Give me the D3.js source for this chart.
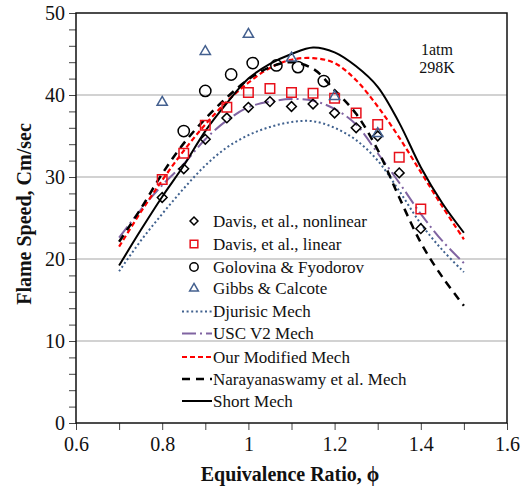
<!DOCTYPE html>
<html>
<head>
<meta charset="utf-8">
<script src="https://cdn.jsdelivr.net/npm/d3@7"></script>
<style>
  html, body { margin: 0; padding: 0; background: #fff; }
  svg { display: block; }
</style>
</head>
<body>
<svg id="chart" width="529" height="491"></svg>
<script>
// ---------- data ----------
const phiCurve = [0.70,0.75,0.80,0.85,0.90,0.95,1.00,1.05,1.10,1.15,1.20,1.25,1.30,1.35,1.40,1.45,1.50];
const djurisicMech = [18.5,22.2,25.5,28.6,31.4,33.6,35.1,36.1,36.7,36.8,36.0,34.5,32.0,28.3,24.3,21.1,18.4];
const uscV2Mech    = [22.6,26.0,29.0,31.6,34.6,36.9,38.5,39.2,39.5,39.3,38.3,36.4,32.9,29.3,25.5,22.2,19.5];
const ourModMech   = [21.5,25.7,29.6,33.2,36.4,39.2,41.5,43.3,44.3,44.5,43.9,41.8,38.6,34.8,30.6,26.4,22.4];
const narayanMech  = [22.1,26.1,30.4,34.1,37.1,39.7,41.9,43.4,44.0,43.2,40.6,37.7,33.3,27.5,22.0,17.8,14.3];
const shortMech    = [19.2,23.5,27.6,31.4,35.6,39.0,42.0,43.8,45.0,45.8,45.2,43.5,41.0,36.6,31.2,26.8,23.2];

const phiDavis = [0.80,0.85,0.90,0.95,1.00,1.05,1.10,1.15,1.20,1.25,1.30,1.35,1.40];
const davisNonlinear = [27.5,31.0,34.6,37.2,38.5,39.2,38.6,38.9,37.8,36.0,35.0,30.5,23.7];
const davisLinear    = [29.7,32.9,36.3,38.5,40.3,40.8,40.3,40.2,39.6,37.8,36.4,32.4,26.1];

const phiGolovina = [0.85,0.90,0.96,1.01,1.065,1.115,1.175];
const golovina    = [35.6,40.5,42.5,43.9,43.6,43.4,41.7];

const phiGibbs = [0.80,0.90,1.00,1.10,1.20,1.30];
const gibbs    = [39.1,45.3,47.4,44.5,39.8,35.3];

const xTickLabels = [0.6,0.8,1.0,1.2,1.4,1.6];
const yTickLabels = [0,10,20,30,40,50];

const legendLabels = ["Davis, et al., nonlinear","Davis, et al., linear","Golovina & Fyodorov","Gibbs & Calcote",
  "Djurisic Mech","USC V2 Mech","Our Modified Mech","Narayanaswamy et al. Mech","Short Mech"];

// ---------- layout ----------
const FONT = "'Liberation Serif', 'Times New Roman', serif";
const svg = d3.select("#chart");
const L = 76, R = 507, T = 13, B = 423;
const x = d3.scaleLinear().domain([0.6,1.6]).range([L,R]);
const y = d3.scaleLinear().domain([0,50]).range([B,T]);

// gridlines
svg.append("g").selectAll("line").data([10,20,30,40]).join("line")
  .attr("x1",L).attr("x2",R).attr("y1",d=>y(d)).attr("y2",d=>y(d))
  .attr("stroke","#a6a6a6").attr("stroke-width",1.2);

// axes
const yAxis = d3.axisLeft(y).tickValues(d3.range(0,51,2)).tickSize(7)
  .tickFormat(d => yTickLabels.includes(d) ? d : "");
const gy = svg.append("g").attr("transform",`translate(${L},0)`).call(yAxis);
const xAxis = d3.axisBottom(x).tickValues(d3.range(6,17).map(v=>v/10)).tickSize(7)
  .tickFormat(d => xTickLabels.some(t=>Math.abs(t-d)<1e-9) ? (Math.abs(d-1)<1e-9 ? "1" : d3.format(".1f")(d)) : "");
const gx = svg.append("g").attr("transform",`translate(0,${B})`).call(xAxis);
[gx,gy].forEach(g=>{
  g.attr("font-family",FONT).attr("font-size",20);
  g.select(".domain").remove();
  g.selectAll(".tick line").attr("stroke","#444").attr("stroke-width",1);
  g.selectAll(".tick text").attr("fill","#111").attr("font-family",FONT).attr("font-size",20);
});
gy.selectAll(".tick text").attr("x",-11).attr("dy","0.34em");
gx.selectAll(".tick text").attr("y",14).attr("dy","0.71em");

// frame
svg.append("rect").attr("x",L).attr("y",T).attr("width",R-L).attr("height",B-T)
  .attr("fill","none").attr("stroke","#111").attr("stroke-width",1.5);

// curves
const curves = [
  {vals: djurisicMech, color:"#41628f", dash:"2,2.6", w:2},
  {vals: uscV2Mech,    color:"#8064a2", dash:"14,4,2,4", w:2},
  {vals: ourModMech,   color:"#ff0000", dash:"5,3", w:2.2},
  {vals: narayanMech,  color:"#000",    dash:"8,6", w:2.5},
  {vals: shortMech,    color:"#000",    dash:null, w:2}
];
const line = d3.line().x(d=>x(d[0])).y(d=>y(d[1])).curve(d3.curveCatmullRom.alpha(0.5));
curves.forEach(c=>{
  svg.append("path").datum(phiCurve.map((p,i)=>[p,c.vals[i]]))
    .attr("d",line).attr("fill","none").attr("stroke",c.color)
    .attr("stroke-width",c.w).attr("stroke-dasharray",c.dash);
});

// markers
const sym = {
  diamond: d3.symbol().type(d3.symbolDiamond2),
  square: d3.symbol().type(d3.symbolSquare2),
  circle: d3.symbol().type(d3.symbolCircle),
  triangle: d3.symbol().type(d3.symbolTriangle2)
};
function markers(px, vals, type, size, color){
  svg.append("g").selectAll("path").data(px.map((p,i)=>[p,vals[i]])).join("path")
    .attr("transform",d=>`translate(${x(d[0])},${y(d[1])})`)
    .attr("d",sym[type].size(size)())
    .attr("fill","none").attr("stroke",color).attr("stroke-width",1.5);
}
markers(phiDavis, davisNonlinear, "diamond", 60, "#000");
markers(phiDavis, davisLinear, "square", 115, "#e8101a");
markers(phiGolovina, golovina, "circle", 100, "#000");
markers(phiGibbs, gibbs, "triangle", 75, "#44608f");

// legend
const lg = svg.append("g");
const rowsY = [221,244,267,288.5,311.5,333.5,357,379,401];
const legendStyles = [
  {type:"diamond", size:40, color:"#000"},
  {type:"square", size:75, color:"#e8101a"},
  {type:"circle", size:55, color:"#000"},
  {type:"triangle", size:55, color:"#44608f"},
  {line:curves[0]},{line:curves[1]},{line:curves[2]},{line:curves[3]},{line:curves[4]}
];
legendLabels.forEach((lab,i)=>{
  const st = legendStyles[i], yy = rowsY[i];
  if (st.type){
    lg.append("path").attr("transform",`translate(194,${yy})`)
      .attr("d",sym[st.type].size(st.size)())
      .attr("fill","none").attr("stroke",st.color).attr("stroke-width",1.5);
  } else {
    lg.append("line").attr("x1",182).attr("x2",212).attr("y1",yy).attr("y2",yy)
      .attr("stroke",st.line.color).attr("stroke-width",st.line.w)
      .attr("stroke-dasharray",st.line.dash);
  }
  lg.append("text").attr("x",213).attr("y",yy).attr("dy","0.34em")
    .attr("font-family",FONT).attr("font-size",17).attr("fill","#111").text(lab);
});

// annotation
svg.append("text").attr("x",437).attr("y",55).attr("text-anchor","middle")
  .attr("font-family",FONT).attr("font-size",16).attr("fill","#111").text("1atm");
svg.append("text").attr("x",437).attr("y",73).attr("text-anchor","middle")
  .attr("font-family",FONT).attr("font-size",16).attr("fill","#111").text("298K");

// axis titles
svg.append("text").attr("x",290).attr("y",481).attr("text-anchor","middle")
  .attr("font-family",FONT).attr("font-size",20).attr("font-weight","bold").attr("fill","#111")
  .text("Equivalence Ratio, ϕ");
svg.append("text").attr("transform","translate(31,214) rotate(-90)").attr("text-anchor","middle")
  .attr("font-family",FONT).attr("font-size",20).attr("font-weight","bold").attr("fill","#111")
  .text("Flame Speed, Cm/sec");
</script>
</body>
</html>
